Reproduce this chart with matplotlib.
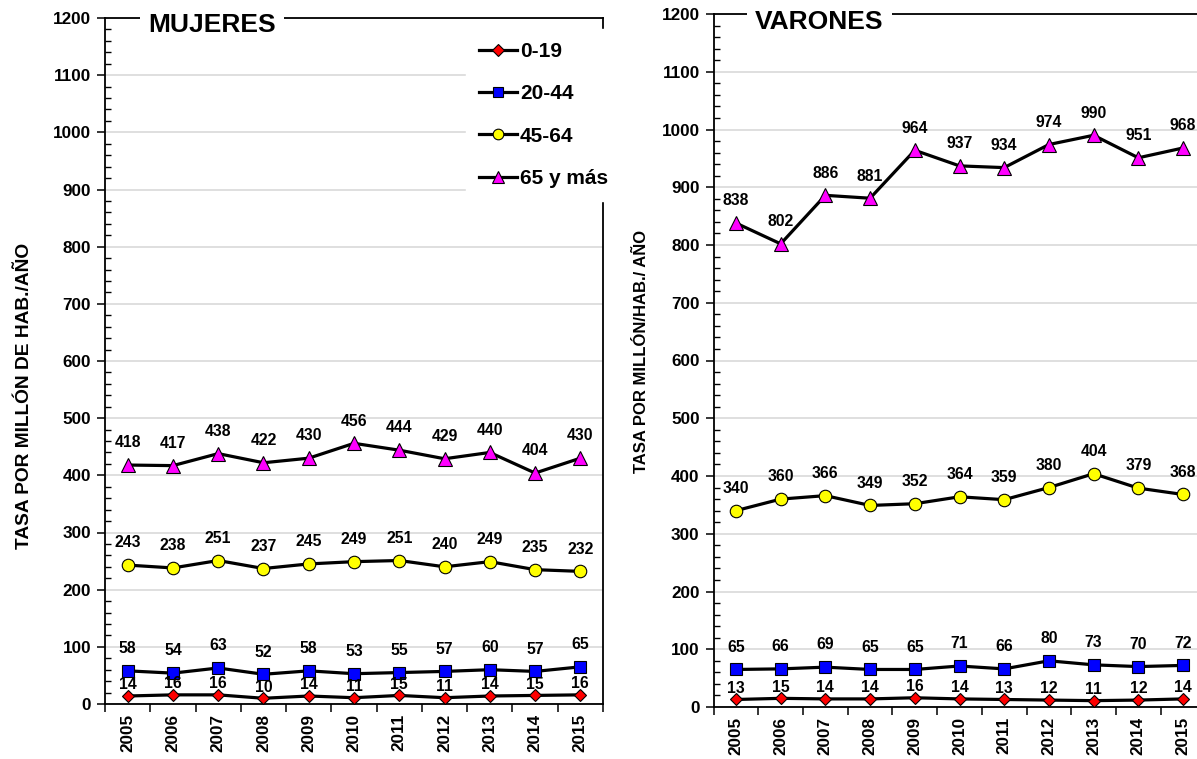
import matplotlib
matplotlib.use('Agg')
import matplotlib.pyplot as plt
import numpy as np
from matplotlib.ticker import MultipleLocator, FixedLocator

# ---------------- data ----------------
years = ['2005', '2006', '2007', '2008', '2009', '2010', '2011', '2012', '2013', '2014', '2015']
groups = ['0-19', '20-44', '45-64', '65 y más']

muj_0_19 = [14, 16, 16, 10, 14, 11, 15, 11, 14, 15, 16]
muj_20_44 = [58, 54, 63, 52, 58, 53, 55, 57, 60, 57, 65]
muj_45_64 = [243, 238, 251, 237, 245, 249, 251, 240, 249, 235, 232]
muj_65 = [418, 417, 438, 422, 430, 456, 444, 429, 440, 404, 430]

var_0_19 = [13, 15, 14, 14, 16, 14, 13, 12, 11, 12, 14]
var_20_44 = [65, 66, 69, 65, 65, 71, 66, 80, 73, 70, 72]
var_45_64 = [340, 360, 366, 349, 352, 364, 359, 380, 404, 379, 368]
var_65 = [838, 802, 886, 881, 964, 937, 934, 974, 990, 951, 968]

yticks = list(range(0, 1201, 100))

# ---------------- style ----------------
W, H = 1197, 759
plt.rcParams['font.family'] = ['Liberation Sans', 'DejaVu Sans']
plt.rcParams['font.weight'] = 'bold'

markers = ['D', 's', 'o', '^']
mcolors = ['#ff0000', '#0000ff', '#ffff00', '#ff00ff']
msizes = [6.6, 9.0, 9.0, 10.0]
label_off = [8, 16, 16, 16]  # points above marker

fig = plt.figure(figsize=(W / 100, H / 100), dpi=100)
fig.patch.set_facecolor('white')


def add_ax(x0, x1, ytop, ybot):
    return fig.add_axes([x0 / W, 1 - ybot / H, (x1 - x0) / W, (ybot - ytop) / H])


def setup(ax, right_spine=True):
    ax.set_xlim(-0.5, len(years) - 0.5)
    ax.set_ylim(0, 1200)
    ax.yaxis.set_major_locator(FixedLocator(yticks))
    ax.yaxis.set_minor_locator(MultipleLocator(20))
    ax.set_xticks(range(len(years)))
    ax.set_xticklabels(years, rotation=90, fontsize=12.3, fontweight='bold')
    ax.xaxis.set_minor_locator(FixedLocator(np.arange(-0.5, len(years), 1.0)))
    ax.tick_params(axis='x', which='major', length=0, pad=7)
    ax.tick_params(axis='x', which='minor', length=6, width=1.1, direction='out')
    ax.tick_params(axis='y', which='major', length=6, width=1.1, direction='out',
                   labelsize=12.3, pad=4)
    ax.tick_params(axis='y', which='minor', length=4, width=1.0, direction='in')
    for lab in ax.get_yticklabels():
        lab.set_fontweight('bold')
    ax.grid(axis='y', which='major', color='#d9d9d9', linewidth=1.2)
    ax.set_axisbelow(True)
    for s in ['left', 'bottom', 'top', 'right']:
        ax.spines[s].set_linewidth(1.3)
        ax.spines[s].set_color('black')
    ax.spines['right'].set_visible(right_spine)


def draw(ax, series):
    handles = []
    for k, vals in enumerate(series):
        x = np.arange(len(vals))
        ln, = ax.plot(x, vals, color='black', linewidth=2.3, marker=markers[k],
                      markersize=msizes[k], markerfacecolor=mcolors[k],
                      markeredgecolor='black', markeredgewidth=0.8,
                      label=groups[k], zorder=3 + k * 0.1, clip_on=False)
        handles.append(ln)
        for i, v in enumerate(vals):
            ax.annotate(str(v), (i, v), xytext=(0, label_off[k]),
                        textcoords='offset points', ha='center', va='center',
                        fontsize=11.3, fontweight='bold', zorder=6)
    return handles


# ---------------- left panel: MUJERES ----------------
ax1 = add_ax(105, 603, 18, 704)
setup(ax1, right_spine=True)
h = draw(ax1, [muj_0_19, muj_20_44, muj_45_64, muj_65])
ax1.set_ylabel('TASA POR MILLÓN DE HAB./AÑO', fontsize=13.8, fontweight='bold')
ax1.yaxis.set_label_coords((33 - 105) / 498, (704 - 396) / 686)
leg = ax1.legend(handles=h, loc='upper left',
                 bbox_to_anchor=(466 / W, 1 - 29 / H), bbox_transform=fig.transFigure,
                 frameon=True, facecolor='white', edgecolor='white', framealpha=1,
                 fancybox=False, fontsize=15, handlelength=1.85, handletextpad=0.12,
                 labelspacing=1.12, borderpad=0.62, borderaxespad=0, markerscale=0.85)
for t in leg.get_texts():
    t.set_fontweight('bold')
leg.set_zorder(10)
fig.text(148 / W, 1 - 25 / H, 'MUJERES', fontsize=19, fontweight='bold',
         ha='left', va='center', zorder=20,
         bbox=dict(facecolor='white', edgecolor='none', pad=6))

# ---------------- right panel: VARONES ----------------
ax2 = add_ax(713.6, 1205.4, 14, 707)
setup(ax2, right_spine=False)
draw(ax2, [var_0_19, var_20_44, var_45_64, var_65])
ax2.set_ylabel('TASA POR MILLÓN/HAB./ AÑO', fontsize=12, fontweight='bold')
ax2.yaxis.set_label_coords((649 - 713.6) / 491.8, (707 - 351) / 693)
fig.text(755 / W, 1 - 22 / H, 'VARONES', fontsize=19, fontweight='bold',
         ha='left', va='center', zorder=20,
         bbox=dict(facecolor='white', edgecolor='none', pad=6))

fig.savefig('out.png', dpi=100, facecolor='white')
